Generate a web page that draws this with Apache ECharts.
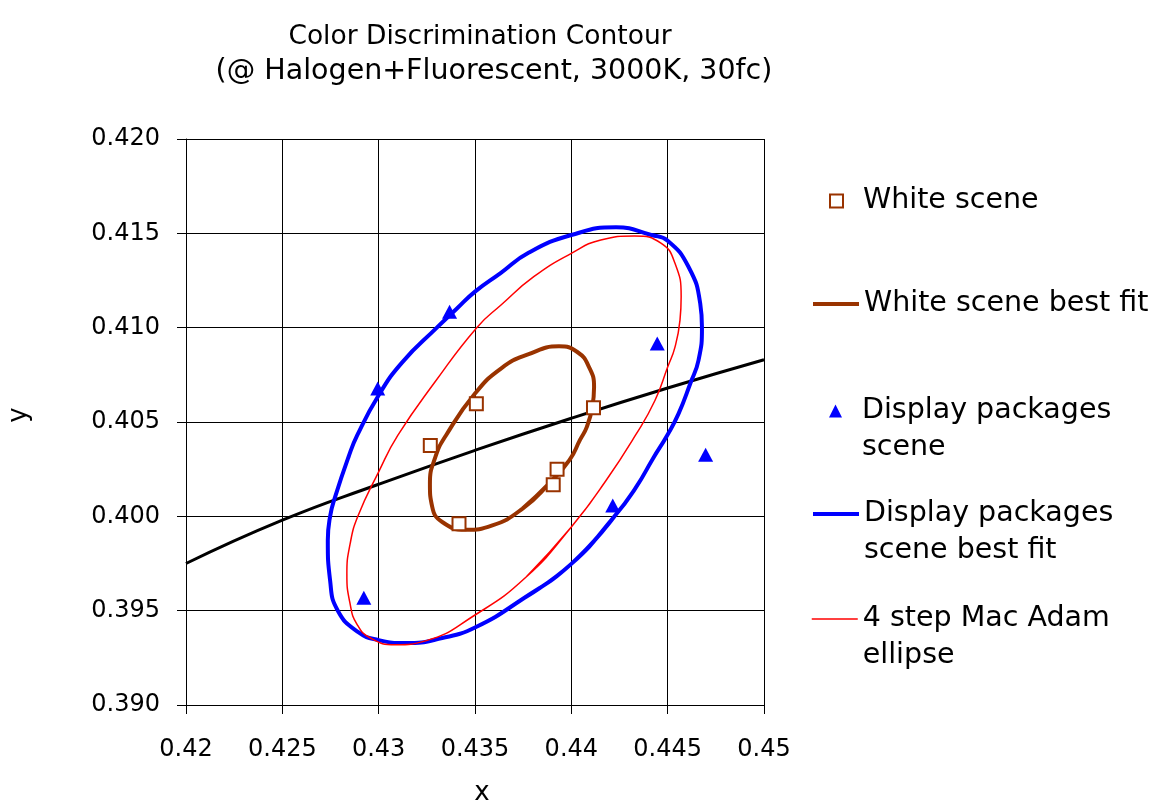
<!DOCTYPE html>
<html>
<head>
<meta charset="utf-8">
<script src="https://cdn.jsdelivr.net/npm/echarts@6/dist/echarts.min.js"></script>
<style>
  html, body { margin: 0; padding: 0; background: #fff; }
  #chart { width: 1155px; height: 804px; }
</style>
</head>
<body>
<div id="chart"></div>
<script>
// Tick labels
const xTickLabels = ['0.42', '0.425', '0.43', '0.435', '0.44', '0.445', '0.45'];
const yTickLabels = ['0.390', '0.395', '0.400', '0.405', '0.410', '0.415', '0.420'];

// Measured chromaticities (x, y)
const whiteScene = [
  [0.43507, 0.40597], [0.43268, 0.40376], [0.44115, 0.40576],
  [0.43926, 0.40249], [0.43906, 0.40167], [0.43417, 0.39961]
];
const displayScene = [
  [0.43368, 0.41084], [0.42995, 0.40677], [0.44446, 0.40916],
  [0.44697, 0.40327], [0.44215, 0.40058], [0.42923, 0.39568]
];

// Blackbody locus through the plotted range
const locus = [
  [0.420, 0.3975], [0.425, 0.3998], [0.430, 0.4017], [0.435, 0.4035],
  [0.440, 0.4052], [0.445, 0.4068], [0.450, 0.4083]
];

// Traced contours, each closed on its first point
const whiteFit = [
  [0.43885, 0.40174], [0.43747, 0.40041], [0.43590, 0.39952], [0.43451, 0.39929],
  [0.43330, 0.39970], [0.43278, 0.40050], [0.43266, 0.40174], [0.43295, 0.40316],
  [0.43350, 0.40430], [0.43500, 0.40651], [0.43638, 0.40786], [0.43775, 0.40858],
  [0.43936, 0.40901], [0.44031, 0.40871], [0.44092, 0.40791], [0.44118, 0.40685],
  [0.44109, 0.40579], [0.44080, 0.40473], [0.44045, 0.40405], [0.43990, 0.40298],
  [0.43885, 0.40174]
];
const displayFit = [
  [0.44000, 0.39748], [0.43747, 0.39562], [0.43500, 0.39411], [0.43330, 0.39355],
  [0.43139, 0.39328], [0.43000, 0.39344], [0.42896, 0.39385], [0.42788, 0.39500],
  [0.42748, 0.39660], [0.42736, 0.39872], [0.42748, 0.40000], [0.42774, 0.40103],
  [0.42844, 0.40316], [0.42889, 0.40430], [0.43000, 0.40642], [0.43121, 0.40815],
  [0.43302, 0.41000], [0.43405, 0.41100], [0.43500, 0.41191], [0.43631, 0.41288],
  [0.43780, 0.41398], [0.44000, 0.41491], [0.44232, 0.41532], [0.44415, 0.41491],
  [0.44500, 0.41461], [0.44608, 0.41323], [0.44669, 0.41128], [0.44678, 0.41004],
  [0.44660, 0.40827], [0.44617, 0.40703], [0.44556, 0.40543], [0.44498, 0.40430],
  [0.44424, 0.40307], [0.44337, 0.40156], [0.44224, 0.40000], [0.44000, 0.39748]
];
const macAdam = [
  [0.44000, 0.39943], [0.43764, 0.39677], [0.43500, 0.39477], [0.43243, 0.39340],
  [0.43087, 0.39319], [0.42957, 0.39355], [0.42887, 0.39429], [0.42852, 0.39535],
  [0.42835, 0.39695], [0.42852, 0.39855], [0.42892, 0.40000], [0.43000, 0.40236],
  [0.43100, 0.40430], [0.43293, 0.40713], [0.43509, 0.41000], [0.43635, 0.41120],
  [0.43805, 0.41270], [0.44000, 0.41394], [0.44153, 0.41465], [0.44327, 0.41486],
  [0.44467, 0.41447], [0.44538, 0.41341], [0.44570, 0.41164], [0.44564, 0.41040],
  [0.44538, 0.40897], [0.44500, 0.40791], [0.44434, 0.40614], [0.44333, 0.40430],
  [0.44181, 0.40191], [0.44000, 0.39943]
];

// A closed trace is drawn with one extra vertex on each end, so the
// smoothing has neighbours at the seam and the loop shows no corner there.
const wrapLoop = pts => [pts[pts.length - 2]].concat(pts, [pts[1]]);

const FONT = 'DejaVu Sans';
const BROWN = '#993300', BLUE = '#0000FF', RED = '#FF0000';

const chart = echarts.init(document.getElementById('chart'), null, { renderer: 'canvas' });

const legendText = { fontFamily: FONT, fontSize: 28.5, lineHeight: 37, color: '#000' };

// One legend block per entry so every entry sits at its own height.
function lineLegend(name, top, width, lines) {
  return {
    data: [name],
    orient: 'vertical',
    left: 811, top: top, padding: 0,
    itemWidth: 46, itemHeight: 13,
    selectedMode: false,
    itemStyle: { opacity: 0 },
    lineStyle: { width: width },
    formatter: n => lines ? '\n' + lines.join('\n') : n,
    textStyle: legendText
  };
}
function markerLegend(name, top, lines) {
  return {
    data: [name],
    orient: 'vertical',
    left: 829, top: top, padding: 0,
    itemWidth: 13, itemHeight: 13,
    selectedMode: false,
    formatter: n => lines ? '\n' + lines.join('\n') : n,
    textStyle: Object.assign({ padding: [0, 0, 0, 15] }, legendText)
  };
}

const option = {
  animation: false,
  backgroundColor: '#fff',
  title: {
    text: '{a|Color Discrimination Contour}\n{b|(@ Halogen+Fluorescent, 3000K, 30fc)}',
    left: 475,
    top: 16,
    textAlign: 'center',
    textStyle: {
      fontFamily: FONT, fontWeight: 'normal', color: '#000',
      rich: {
        a: { fontFamily: FONT, fontSize: 26.5, lineHeight: 33, color: '#000' },
        b: { fontFamily: FONT, fontSize: 28.5, lineHeight: 35, color: '#000', padding: [0, 0, 0, 28] }
      }
    }
  },
  legend: [
    markerLegend('White scene', 182.5),
    lineLegend('White scene best fit', 285.5, 4),
    markerLegend('Display packages scene', 355.5, ['Display packages', 'scene']),
    lineLegend('Display packages scene best fit', 458.5, 4, ['Display packages', 'scene best fit']),
    lineLegend('4 step Mac Adam ellipse', 563.5, 1.5, ['4 step Mac Adam', 'ellipse'])
  ],
  grid: { left: 186, right: 391, top: 139, bottom: 99, containLabel: false, outerBoundsMode: 'none' },
  xAxis: {
    type: 'value', min: 0.42, max: 0.45, interval: 0.005,
    name: 'x', nameLocation: 'middle', nameGap: 75,
    nameTextStyle: { fontFamily: FONT, fontSize: 26, color: '#000', padding: [0, 0, 0, 14] },
    axisLine: { lineStyle: { color: '#000', width: 1 } },
    axisTick: { inside: false, length: 9, lineStyle: { color: '#000' } },
    splitLine: { show: true, lineStyle: { color: '#000', width: 1 } },
    axisLabel: {
      margin: 33, fontFamily: FONT, fontSize: 24, color: '#000',
      formatter: v => xTickLabels[Math.round((v - 0.42) / 0.005)]
    }
  },
  yAxis: {
    type: 'value', min: 0.39, max: 0.42, interval: 0.005,
    name: 'y', nameLocation: 'middle', nameGap: 154,
    nameTextStyle: { fontFamily: FONT, fontSize: 26, color: '#000', padding: [0, 0, 0, 14] },
    axisLine: { lineStyle: { color: '#000', width: 1 } },
    axisTick: { inside: false, length: 9, lineStyle: { color: '#000' } },
    splitLine: { show: true, lineStyle: { color: '#000', width: 1 } },
    axisLabel: {
      margin: 26, fontFamily: FONT, fontSize: 24, color: '#000',
      formatter: v => yTickLabels[Math.round((v - 0.39) / 0.005)]
    }
  },
  series: [
    {
      name: 'Blackbody locus', type: 'line', data: locus, smooth: true,
      showSymbol: false, symbol: 'none',
      lineStyle: { color: '#000', width: 3 }, silent: true, z: 2
    },
    {
      name: 'White scene', type: 'scatter', data: whiteScene,
      symbol: 'emptyRect', symbolSize: 13,
      itemStyle: { color: BROWN, borderColor: BROWN, borderWidth: 2, opacity: 1 }, z: 5
    },
    {
      name: 'White scene best fit', type: 'line', data: wrapLoop(whiteFit), smooth: true,
      showSymbol: false, symbol: 'none',
      lineStyle: { color: BROWN, width: 4 }, itemStyle: { color: BROWN }, z: 3
    },
    {
      name: 'Display packages scene', type: 'scatter', data: displayScene,
      symbol: 'triangle', symbolSize: [15, 14],
      itemStyle: { color: BLUE, opacity: 1 }, z: 5
    },
    {
      name: 'Display packages scene best fit', type: 'line', data: wrapLoop(displayFit), smooth: true,
      showSymbol: false, symbol: 'none',
      lineStyle: { color: BLUE, width: 4 }, itemStyle: { color: BLUE }, z: 3
    },
    {
      name: '4 step Mac Adam ellipse', type: 'line', data: wrapLoop(macAdam), smooth: true,
      showSymbol: false, symbol: 'none',
      lineStyle: { color: RED, width: 1.5 }, itemStyle: { color: RED }, z: 3
    }
  ]
};

chart.setOption(option);
</script>
</body>
</html>
